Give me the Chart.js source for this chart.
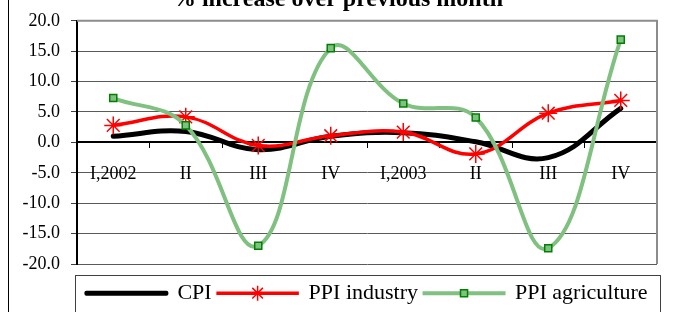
<!DOCTYPE html>
<html>
<head>
<meta charset="utf-8">
<script src="https://cdn.jsdelivr.net/npm/chart.js@4.4.1/dist/chart.umd.min.js"></script>
<style>
    html, body { margin: 0; padding: 0; background: #fff; }
    #moldura { position: relative; width: 675px; height: 312px; overflow: hidden; }
    #grafico { position: absolute; left: 0; top: -15px; }
</style>
</head>
<body>
<div id="moldura"><canvas id="grafico" width="675" height="331"></canvas></div>
<script>
const trimestres = ['I,2002', 'II', 'III', 'IV', 'I,2003', 'II', 'III', 'IV'];
const cpi = [1.0, 1.8, -1.2, 1.0, 1.6, 0.1, -2.5, 5.6];
const ppiIndustria = [2.8, 4.2, -0.5, 1.1, 1.7, -1.9, 4.8, 6.9];
const ppiAgricultura = [7.3, 2.8, -17.0, 15.5, 6.4, 4.1, -17.4, 16.9];
const limitesY = [-20, 20];
const passoY = 5;

const serif = '"Liberation Serif", "Times New Roman", serif';
Chart.defaults.font.family = serif;
Chart.defaults.color = '#000';

// borda do plot (topo/direita), borda externa e caixa da legenda com marcadores
const molduras = {
    id: 'molduras',
    beforeDatasetsDraw(chart) {
        const { ctx, chartArea: a } = chart;
        ctx.save();
        ctx.strokeStyle = '#8c8c8c';
        ctx.lineWidth = 2;
        ctx.beginPath();
        ctx.moveTo(a.left, a.top);
        ctx.lineTo(a.right, a.top);
        ctx.lineTo(a.right, a.bottom);
        ctx.stroke();
        ctx.restore();
    },
    afterDraw(chart) {
        const { ctx, legend } = chart;
        ctx.save();
        ctx.strokeStyle = '#000';
        ctx.lineWidth = 1;
        ctx.beginPath();
        ctx.moveTo(8.5, 0);
        ctx.lineTo(8.5, chart.height);
        ctx.stroke();

        ctx.strokeStyle = '#404040';
        ctx.strokeRect(75.5, 290.5, 585, chart.height);

        legend.legendItems.forEach((item, i) => {
            const ds = chart.data.datasets[item.datasetIndex];
            if (!ds.legendRadius) return;
            const caixa = legend.legendHitBoxes[i];
            ctx.fillStyle = ds.pointBackgroundColor || ds.pointBorderColor;
            ctx.strokeStyle = ds.pointBorderColor;
            ctx.lineWidth = ds.pointBorderWidth;
            Chart.helpers.drawPoint(ctx, {
                pointStyle: ds.pointStyle,
                rotation: 0,
                radius: ds.legendRadius,
                borderWidth: ds.pointBorderWidth
            }, caixa.left + 40, caixa.top + 11);
        });
        ctx.restore();
    }
};

new Chart(document.getElementById('grafico'), {
    type: 'line',
    data: {
        labels: trimestres,
        datasets: [{
            label: 'PPI agriculture',
            data: ppiAgricultura,
            borderColor: '#80c080',
            backgroundColor: '#80c080',
            borderWidth: 4,
            tension: 0.4,
            pointStyle: 'rect',
            pointRadius: 5,
            legendRadius: 5,
            pointBackgroundColor: '#80c080',
            pointBorderColor: '#008000',
            pointBorderWidth: 1.5
        }, {
            label: 'PPI industry',
            data: ppiIndustria,
            borderColor: '#ff0000',
            backgroundColor: '#ff0000',
            borderWidth: 3.5,
            tension: 0.4,
            pointStyle: 'star',
            pointRadius: 9,
            legendRadius: 7.5,
            pointBorderColor: '#ff0000',
            pointBorderWidth: 1.5
        }, {
            label: 'CPI',
            data: cpi,
            borderColor: '#000',
            backgroundColor: '#000',
            borderWidth: 5,
            borderCapStyle: 'round',
            tension: 0.4,
            pointRadius: 0
        }]
    },
    options: {
        responsive: false,
        animation: false,
        devicePixelRatio: 1,
        layout: { padding: { left: 18, right: 18, top: 0, bottom: 1.8 } },
        plugins: {
            tooltip: { enabled: false },
            title: {
                display: true,
                text: '% increase over previous month',
                color: '#000',
                font: { family: serif, size: 24, weight: 'bold' },
                padding: { top: 0, bottom: 7 }
            },
            legend: {
                position: 'bottom',
                fullSize: false,
                reverse: true,
                // titulo vazio so para afastar a legenda do grafico
                title: { display: true, text: '', font: { size: 1 }, padding: { top: 11, bottom: 0 } },
                labels: {
                    boxWidth: 80,
                    boxHeight: 1,
                    padding: 6,
                    color: '#000',
                    font: { family: serif, size: 22 },
                    generateLabels(chart) {
                        const itens = Chart.defaults.plugins.legend.labels.generateLabels(chart);
                        itens.forEach(item => {
                            const ds = chart.data.datasets[item.datasetIndex];
                            item.fillStyle = ds.borderColor;
                            item.strokeStyle = ds.borderColor;
                            item.lineWidth = ds.borderWidth - 1;
                            item.lineJoin = ds.label === 'CPI' ? 'round' : 'miter';
                        });
                        return itens;
                    }
                }
            }
        },
        scales: {
            x: {
                position: { y: 0 },
                offset: true,
                ticks: {
                    padding: 16,
                    color: '#000',
                    maxRotation: 0,
                    autoSkip: false,
                    font: { family: serif, size: 18 }
                },
                grid: { offset: true, drawOnChartArea: false, tickLength: 5, color: '#000' },
                border: { color: '#000', width: 2 }
            },
            y: {
                min: limitesY[0],
                max: limitesY[1],
                ticks: {
                    stepSize: passoY,
                    padding: 11,
                    color: '#000',
                    autoSkip: false,
                    font: { family: serif, size: 18 },
                    callback: v => v.toFixed(1)
                },
                grid: { color: '#5a5a5a', lineWidth: 1, tickLength: 6, tickColor: '#404040' },
                border: { color: '#000', width: 2 },
                afterFit(scale) { scale.width = 59; }
            }
        }
    },
    plugins: [molduras]
});
</script>
</body>
</html>
